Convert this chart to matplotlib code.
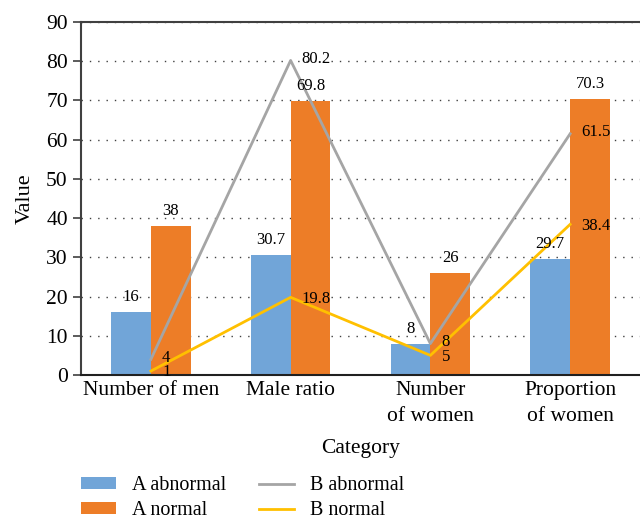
import numpy as np
import matplotlib.pyplot as plt

categories = ['Number of men', 'Male ratio', 'Number\nof women', 'Proportion\nof women']
a_abnormal = [16, 30.7, 8, 29.7]
a_normal = [38, 69.8, 26, 70.3]
b_abnormal = [4, 80.2, 8, 61.5]
b_normal = [1, 19.8, 5, 38.4]

plt.rcParams['font.family'] = ['Liberation Serif', 'DejaVu Serif']

fig = plt.figure(figsize=(6.4, 5.21), dpi=100)
ax = fig.add_axes([81 / 640, 1 - 375 / 521, 559 / 640, 353 / 521])

x = np.arange(len(categories))
w = 0.285
bars_a = ax.bar(x - w / 2, a_abnormal, w, color='#71A5D8', label='A abnormal', zorder=2)
bars_n = ax.bar(x + w / 2, a_normal, w, color='#ED7D27', label='A normal', zorder=2)
line_ba, = ax.plot(x, b_abnormal, color='#A5A5A5', lw=2, label='B abnormal', zorder=3)
line_bn, = ax.plot(x, b_normal, color='#FFC000', lw=2, label='B normal', zorder=3)

for bars, vals in ((bars_a, a_abnormal), (bars_n, a_normal)):
    for b, v in zip(bars, vals):
        ax.annotate(f'{v:g}', (b.get_x() + b.get_width() / 2, v), xytext=(0, 5),
                    textcoords='offset points', ha='center', va='bottom', fontsize=12)
for series, dy in ((b_abnormal, 1), (b_normal, -1)):
    for xi, v in zip(x, series):
        ax.annotate(f'{v:g}', (xi, v), xytext=(8, dy), textcoords='offset points',
                    ha='left', va='center', fontsize=12, zorder=4)

ax.set_xlim(-0.5, 3.5)
ax.set_ylim(0, 90)
ax.set_yticks(range(0, 91, 10))
ax.set_xticks(x)
ax.set_xticklabels(categories, fontsize=15.5, linespacing=1.5)
ax.tick_params(axis='y', labelsize=15.5, length=6, width=1.2, color='#404040')
ax.tick_params(axis='x', length=0, pad=4)
ax.yaxis.grid(True, linestyle=(0, (1, 5)), color='#404040', lw=1, zorder=0)
ax.set_axisbelow(True)

ax.spines['right'].set_visible(False)
ax.spines['left'].set_color('#404040')
ax.spines['left'].set_linewidth(1.5)
ax.spines['top'].set_color('#404040')
ax.spines['top'].set_linewidth(1.5)
ax.spines['bottom'].set_color('#202020')
ax.spines['bottom'].set_linewidth(1.5)

ax.set_xlabel('Category', fontsize=15.5, labelpad=10)
ax.set_ylabel('Value', fontsize=16, labelpad=8)

fig.legend(handles=[bars_a, bars_n, line_ba, line_bn], loc='lower left',
           bbox_to_anchor=(73 / 640, -0.014), borderaxespad=0, ncol=2, frameon=False,
           fontsize=14.5, handlelength=1.75, handleheight=0.55, columnspacing=1.6,
           labelspacing=0.3, handletextpad=0.8)

fig.savefig('out.png', dpi=100)
